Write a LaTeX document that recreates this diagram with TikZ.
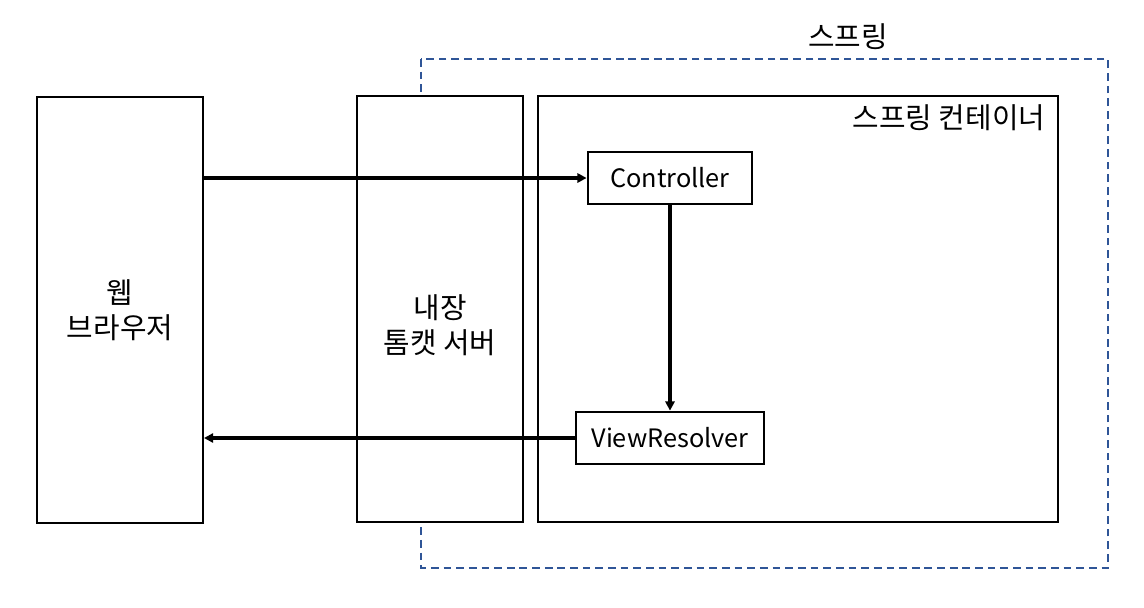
\documentclass[tikz,border=0pt]{standalone}
\usepackage{fontspec}
\setmainfont{Noto Sans CJK KR}
\usetikzlibrary{arrows.meta}

\tikzset{
	box/.style={draw,line width=1.4pt,fill=white,shape=rectangle,inner sep=0pt},
	flow/.style={line width=2.2pt,-{Triangle[length=6.5pt,width=6.5pt]}},
	kor/.style={font=\fontsize{20.5}{25}\selectfont},
}

\begin{document}
\begin{tikzpicture}[x=0.025cm,y=-0.025cm,font=\fontsize{18}{22}\selectfont]
		\useasboundingbox (0,0) rectangle (1144,607);
		\draw [color={rgb,255:red,47;green,85;blue,151},line width=1.4pt,dash pattern=on 5.5pt off 3.5pt] (421,59) rectangle (1108,568);
		\draw (848,37) 	node (spring) [kor] {스프링};
		\draw (120,310) 	node (browser) [box,kor,minimum width=4.15cm,minimum height=10.65cm,align=center] {웹\\브라우저};
		\draw (440,309) 	node (tomcat) [box,minimum width=4.15cm,minimum height=10.65cm] {};
		\draw (440,325) 	node (tomcatlabel) [kor,align=center] {내장\\톰캣 서버};
		\draw (798,309) 	node (container) [box,minimum width=13cm,minimum height=10.65cm] {};
		\draw (1050,118) 	node (containerlabel) [kor,anchor=east] {스프링 컨테이너};
		\draw (670,178) 	node (controller) [box,minimum width=4.12cm,minimum height=1.28cm] {Controller};
		\draw (670,438) 	node (viewresolver) [box,minimum width=4.72cm,minimum height=1.32cm] {ViewResolver};
		\draw [flow] (controller.west -| browser.east) -- (controller.west);
		\draw [flow] (controller.south) -- (viewresolver.north);
		\draw [flow] (viewresolver.west) -- (viewresolver.west -| browser.east);
	\end{tikzpicture}
\end{document}
